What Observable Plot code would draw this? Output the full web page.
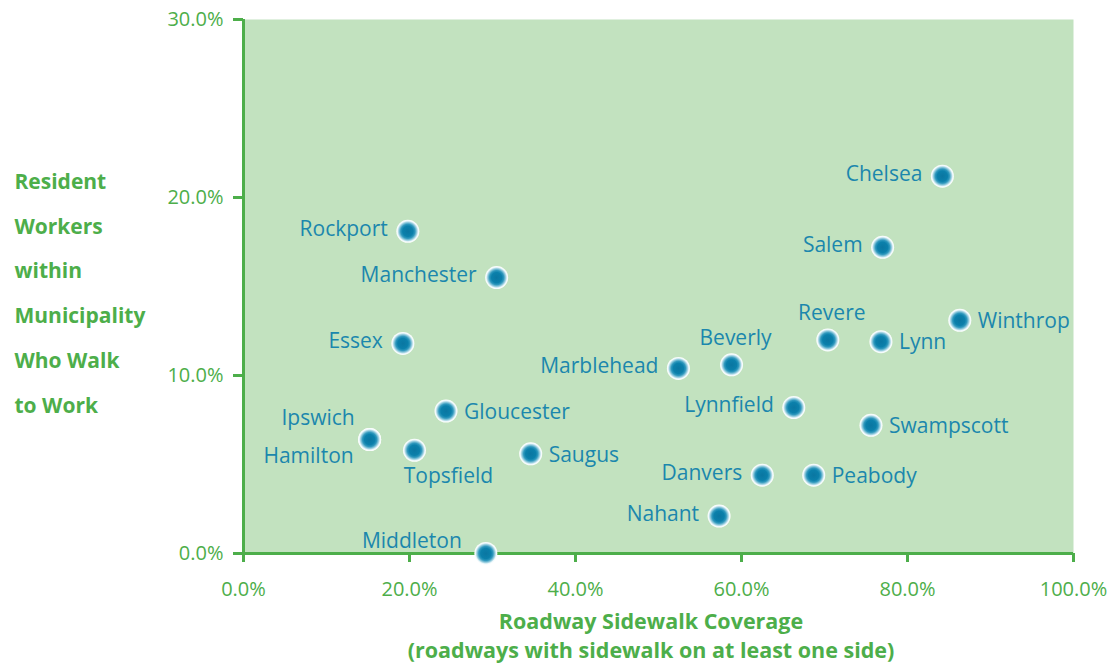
<!DOCTYPE html>
<html>
<head>
<meta charset="utf-8">
<script src="https://cdn.jsdelivr.net/npm/d3@7"></script>
<script src="https://cdn.jsdelivr.net/npm/@observablehq/plot@0.6"></script>
<style>
  html, body { margin: 0; padding: 0; background: #ffffff; }
  #chart svg g[aria-label*="axis"], #chart svg g[aria-label*="axis"] text { font-size: 20px; }
</style>
</head>
<body>
<div id="chart"></div>
<script>
// Municipalities, sidewalk coverage (%), share walking to work (%)
const towns = ["Chelsea","Rockport","Salem","Manchester","Winthrop","Revere","Lynn","Essex","Beverly","Marblehead","Gloucester","Lynnfield","Swampscott","Ipswich","Hamilton","Topsfield","Saugus","Danvers","Peabody","Nahant","Middleton"];
const sidewalk = [84.2, 19.8, 77.0, 30.5, 86.3, 70.4, 76.8, 19.2, 58.8, 52.4, 24.4, 66.3, 75.6, 15.2, 15.2, 20.6, 34.6, 62.5, 68.7, 57.3, 29.2];
const walk     = [21.2, 18.1, 17.2, 15.5, 13.1, 12.0, 11.9, 11.8, 10.6, 10.4,  8.0,  8.2,  7.2,  6.4,  6.4,  5.8,  5.6,  4.4,  4.4,  2.1,  0.0];
// label side relative to dot
const labelSide = ["left","left","left","left","right","above","right","left","above","left","right","left","right","aboveLeft","belowLeft","below","right","left","right","left","upperLeft"];
const xTicks = [0, 20, 40, 60, 80, 100];
const yTicks = [0, 10, 20, 30];
const xTitle = "Roadway Sidewalk Coverage\n(roadways with sidewalk on at least one side)";
const yTitle = "Resident\nWorkers\nwithin\nMunicipality\nWho Walk\nto Work";

const data = towns.map((t, i) => ({town: t, x: sidewalk[i], y: walk[i], side: labelSide[i]}));

const green = "#4dae4a";
const labelColor = "#1b87ad";
const fmt = d => d.toFixed(1) + "%";

const offsets = {
  left:      {dx: -20, dy: -2, textAnchor: "end"},
  right:     {dx: 18,  dy: 1,  textAnchor: "start"},
  above:     {dx: 4,   dy: -27, textAnchor: "middle"},
  below:     {dx: 34,  dy: 26, textAnchor: "middle"},
  aboveLeft: {dx: -15, dy: -21, textAnchor: "end"},
  belowLeft: {dx: -16, dy: 17, textAnchor: "end"},
  upperLeft: {dx: -24, dy: -12, textAnchor: "end"}
};

const labelMarks = Object.entries(offsets).map(([side, o]) =>
  Plot.text(data.filter(d => d.side === side), {
    x: "x", y: "y", text: "town",
    dx: o.dx, dy: o.dy, textAnchor: o.textAnchor,
    fill: labelColor, fontSize: 21
  })
);

const chart = Plot.plot({
  width: 1120,
  height: 666,
  marginLeft: 243,
  marginRight: 47,
  marginTop: 19,
  marginBottom: 113,
  x: {domain: [0, 100]},
  y: {domain: [0, 30]},
  style: {fontFamily: "'Open Sans', sans-serif", fontSize: "20px", color: green, background: "#ffffff", overflow: "visible"},
  marks: [
    Plot.frame({fill: "#c2e2bf", stroke: null}),
    Plot.axisX({ticks: xTicks, tickFormat: fmt, tickSize: 9, tickPadding: 19, fontSize: 20, strokeWidth: 3, label: null}),
    Plot.axisY({ticks: yTicks, tickFormat: fmt, tickSize: 10, tickPadding: 10, fontSize: 20, strokeWidth: 3, label: null}),
    Plot.ruleX([0], {stroke: green, strokeWidth: 3}),
    Plot.ruleY([0], {stroke: green, strokeWidth: 3}),
    Plot.dot(data, {x: "x", y: "y", r: 11.5, fill: "url(#dotGrad)", stroke: null}),
    ...labelMarks,
    Plot.text([yTitle], {frameAnchor: "left", dx: -229, dy: 0, textAnchor: "start", lineAnchor: "middle", lineHeight: 2.13, fontWeight: "bold", fontSize: 21, fill: green}),
    Plot.text([xTitle], {frameAnchor: "bottom", dx: -7.5, dy: 81, textAnchor: "middle", lineAnchor: "middle", lineHeight: 1.35, fontWeight: "bold", fontSize: 21.5, fill: green})
  ]
});

const defs = d3.select(chart).insert("defs", ":first-child");
const grad = defs.append("radialGradient").attr("id", "dotGrad").attr("cx", "0.5").attr("cy", "0.5").attr("r", "0.5");
[[0, "#0a76a1"], [0.45, "#0b80ab"], [0.62, "#2f98bd"], [0.8, "#a3d3e3"], [0.9, "#eef8fb"], [1, "#ffffff"]]
  .forEach(([o, c]) => grad.append("stop").attr("offset", o).attr("stop-color", c));

document.getElementById("chart").appendChild(chart);
</script>
</body>
</html>
